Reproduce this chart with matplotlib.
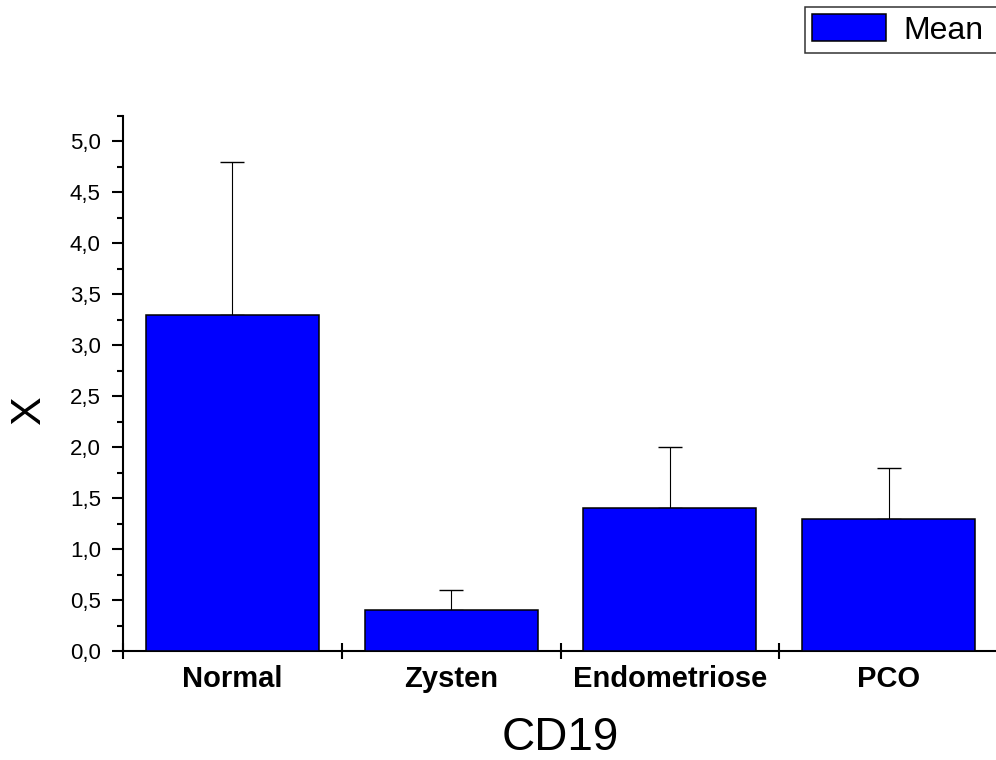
import matplotlib
matplotlib.use("Agg")
import matplotlib.pyplot as plt
from matplotlib.patches import Rectangle
from matplotlib.legend_handler import HandlerPatch
from matplotlib.ticker import MultipleLocator, FixedLocator, FuncFormatter, NullFormatter

plt.rcParams['font.family'] = ['Liberation Sans', 'DejaVu Sans']

# Mittelwerte und obere Fehler (SD) je Gruppe
groups = ['Normal', 'Zysten', 'Endometriose', 'PCO']
means = [3.3, 0.4, 1.4, 1.3]
errors = [1.5, 0.2, 0.6, 0.5]

fig = plt.figure(figsize=(9.96, 7.6), dpi=100)
ax = fig.add_axes([123 / 996, 109 / 760, 875 / 996, 535 / 760])

x = list(range(len(groups)))
ax.bar(x, means, width=0.79, color='#0000ff', edgecolor='black', linewidth=1.1,
       label='Mean', zorder=3)
ax.errorbar(x, means, yerr=[[0] * len(errors), errors], fmt='none', ecolor='black',
            elinewidth=0.8, capsize=8.5, capthick=1.0, zorder=2)

ax.set_xlim(-0.5, 3.5)
ax.set_ylim(0, 5.25)

# nur linke und untere Achse
for side in ['top', 'right']:
    ax.spines[side].set_visible(False)
for side in ['left', 'bottom']:
    ax.spines[side].set_linewidth(1.5)

ax.yaxis.set_major_locator(MultipleLocator(0.5))
ax.yaxis.set_minor_locator(MultipleLocator(0.25))
ax.yaxis.set_major_formatter(FuncFormatter(lambda v, p: f'{v:.1f}'.replace('.', ',')))
ax.tick_params(axis='y', which='major', direction='out', length=8, width=1.5,
               labelsize=16, pad=8)
ax.tick_params(axis='y', which='minor', direction='out', length=4, width=1.5)

# Striche an den Gruppengrenzen, Beschriftung in der Mitte
ax.xaxis.set_major_locator(FixedLocator([-0.5, 0.5, 1.5, 2.5, 3.5]))
ax.xaxis.set_major_formatter(NullFormatter())
ax.xaxis.set_minor_locator(FixedLocator(x))
ax.set_xticklabels(groups, minor=True, fontweight='bold')
ax.tick_params(axis='x', which='major', direction='inout', length=12, width=1.5)
ax.tick_params(axis='x', which='minor', length=0, labelsize=21, pad=10)

ax.set_xlabel('CD19', fontsize=33)
ax.xaxis.set_label_coords(0.5, -0.1215)
ax.set_ylabel('X', fontsize=31, rotation=90, ha='center', va='center')
ax.yaxis.set_label_coords(-94 / 875, (651 - 411) / 535)


def legend_box(legend, orig_handle, xdescent, ydescent, width, height, fontsize):
    shift = 0.24 * fontsize
    return Rectangle((-xdescent + shift, -ydescent), width - shift, height)


# Legendenrahmen läuft rechts über den Rand hinaus
leg_h = 46 / 760
leg = ax.legend(loc='upper left', mode='expand',
                bbox_to_anchor=(805 / 996, 1 - 7 / 760 - leg_h, 205 / 996, leg_h),
                bbox_transform=fig.transFigure, borderaxespad=0, fontsize=23,
                frameon=True, fancybox=False, borderpad=0.22, handlelength=2.3,
                handleheight=0.94, handletextpad=0.56,
                handler_map={Rectangle: HandlerPatch(patch_func=legend_box)})
leg.get_frame().set_edgecolor('black')
leg.get_frame().set_linewidth(1.1)

fig.savefig('out.png', dpi=100)
